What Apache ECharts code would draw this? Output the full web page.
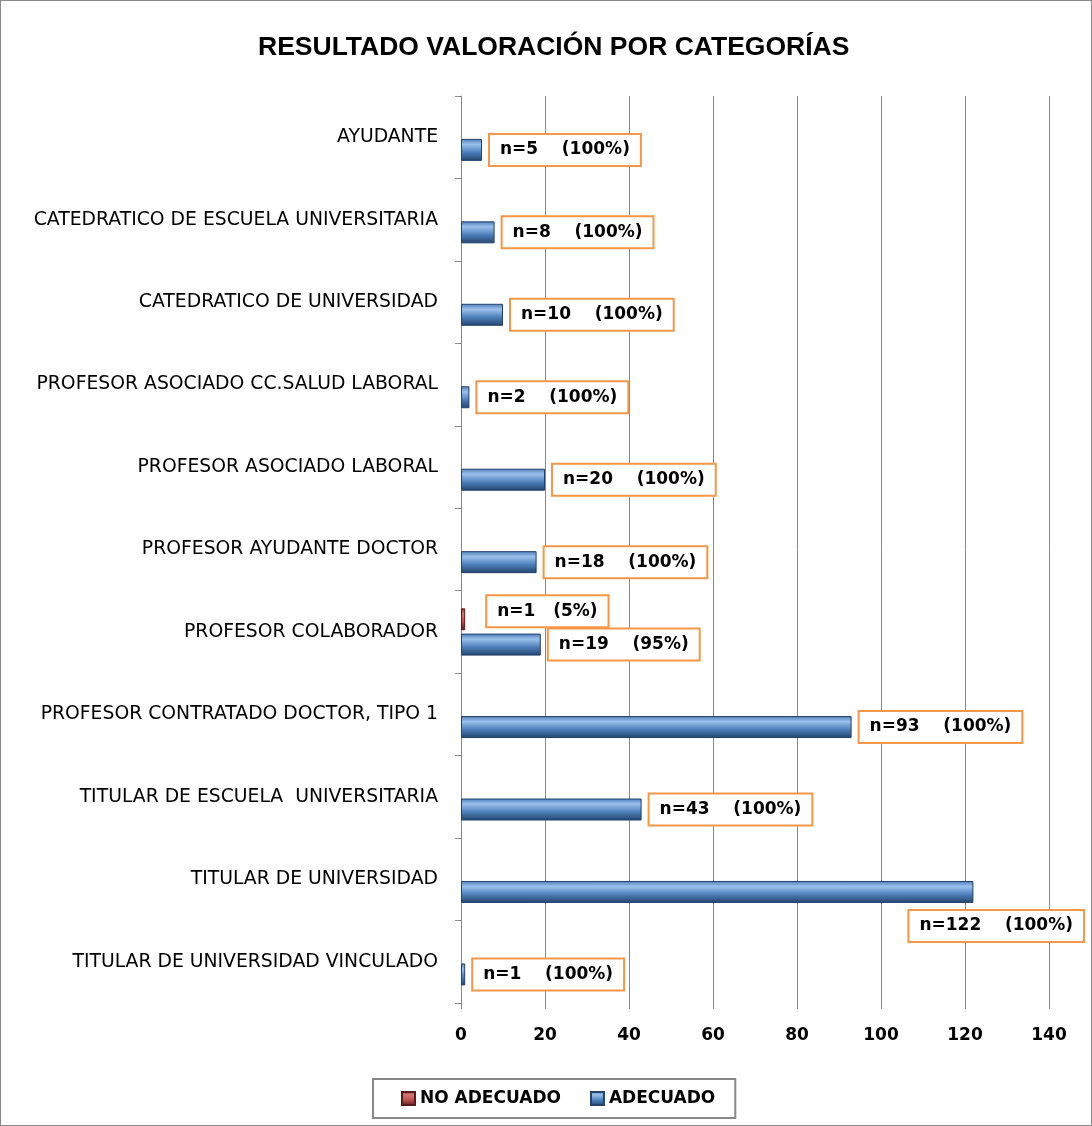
<!DOCTYPE html>
<html>
<head>
<meta charset="utf-8">
<script src="https://cdn.jsdelivr.net/npm/echarts@6/dist/echarts.min.js"></script>
<style>
  html, body { margin: 0; padding: 0; background: #fff; }
  #main { width: 1090px; height: 1124px; border: 1px solid #888; }
</style>
</head>
<body>
<div id="main"></div>
<script>
const categories = [
  'AYUDANTE',
  'CATEDRATICO DE ESCUELA UNIVERSITARIA',
  'CATEDRATICO DE UNIVERSIDAD',
  'PROFESOR ASOCIADO CC.SALUD LABORAL',
  'PROFESOR ASOCIADO LABORAL',
  'PROFESOR AYUDANTE DOCTOR',
  'PROFESOR COLABORADOR',
  'PROFESOR CONTRATADO DOCTOR, TIPO 1',
  'TITULAR DE ESCUELA  UNIVERSITARIA',
  'TITULAR DE UNIVERSIDAD',
  'TITULAR DE UNIVERSIDAD VINCULADO'
]
const noAdecuado = [null, null, null, null, null, null, 1, null, null, null, null]
const noAdecuadoPct = [null, null, null, null, null, null, 5, null, null, null, null]
const adecuado = [5, 8, 10, 2, 20, 18, 19, 93, 43, 122, 1]
const adecuadoPct = [100, 100, 100, 100, 100, 100, 95, 100, 100, 100, 100]
const xTicks = { min: 0, max: 140, interval: 20 }

const boxLabel = {
  show: true,
  position: 'right',
  distance: 8,
  color: '#000',
  fontWeight: 'bold',
  fontSize: 17,
  fontFamily: 'DejaVu Sans',
  backgroundColor: '#fff',
  borderColor: '#F79646',
  borderWidth: 2,
  padding: [7, 10, 6, 10]
}

let chart = echarts.init(document.getElementById('main'))

const bevel = (c1, c2, c3, c4) => new echarts.graphic.LinearGradient(0, 0, 0, 1, [
  { offset: 0, color: c1 },
  { offset: 0.25, color: c2 },
  { offset: 0.6, color: c3 },
  { offset: 1, color: c4 }
])

let option = {
  title: {
    text: 'RESULTADO VALORACIÓN POR CATEGORÍAS',
    left: 252,
    top: 28,
    textStyle: {
      fontFamily: 'Liberation Sans',
      fontWeight: 'bold',
      fontSize: 26.5,
      color: '#000'
    }
  },
  legend: {
    bottom: 7,
    left: 372,
    data: ['NO ADECUADO', 'ADECUADO'],
    itemWidth: 13,
    itemHeight: 13,
    itemGap: 29,
    icon: 'rect',
    borderColor: '#888',
    borderWidth: 2,
    padding: [11, 20, 11, 28],
    textStyle: {
      fontFamily: 'DejaVu Sans',
      fontWeight: 'bold',
      fontSize: 17,
      color: '#000'
    }
  },
  grid: {
    left: 460,
    right: 42,
    top: 95,
    bottom: 122
  },
  xAxis: {
    type: 'value',
    min: xTicks.min,
    max: xTicks.max,
    interval: xTicks.interval,
    axisLine: { show: false },
    axisTick: { show: true, length: 6, lineStyle: { color: '#888' } },
    splitLine: { show: true, lineStyle: { color: '#888', width: 1 } },
    axisLabel: {
      margin: 24,
      color: '#000',
      fontWeight: 'bold',
      fontSize: 17,
      fontFamily: 'DejaVu Sans'
    }
  },
  yAxis: {
    type: 'category',
    data: categories,
    inverse: true,
    axisLine: { show: true, lineStyle: { color: '#888' } },
    axisTick: { show: true, length: 6, lineStyle: { color: '#888' } },
    axisLabel: {
      margin: 23,
      color: '#000',
      fontSize: 18.8,
      fontFamily: 'DejaVu Sans'
    }
  },
  series: [
    {
      name: 'NO ADECUADO',
      type: 'bar',
      data: noAdecuado,
      barWidth: 22,
      barGap: '15%',
      itemStyle: {
        color: bevel('#8a3230', '#d27a77', '#c0504d', '#5a1c1a'),
        borderColor: '#5a1c1a',
        borderWidth: 1
      },
      label: Object.assign({}, boxLabel, {
        offset: [14, -8],
        formatter: p => 'n=' + p.value + '   (' + noAdecuadoPct[p.dataIndex] + '%)'
      })
    },
    {
      name: 'ADECUADO',
      type: 'bar',
      data: adecuado.map((v, i) => i === 9
        ? { value: v, label: { offset: [-72, 34] } }
        : v),
      barWidth: 22,
      itemStyle: {
        color: bevel('#4a7cb8', '#9cc0ec', '#4f81bd', '#23436b'),
        borderColor: '#23436b',
        borderWidth: 1
      },
      label: Object.assign({}, boxLabel, {
        formatter: p => 'n=' + p.value + '    (' + adecuadoPct[p.dataIndex] + '%)'
      })
    }
  ]
}

chart.setOption(option)
</script>
</body>
</html>
